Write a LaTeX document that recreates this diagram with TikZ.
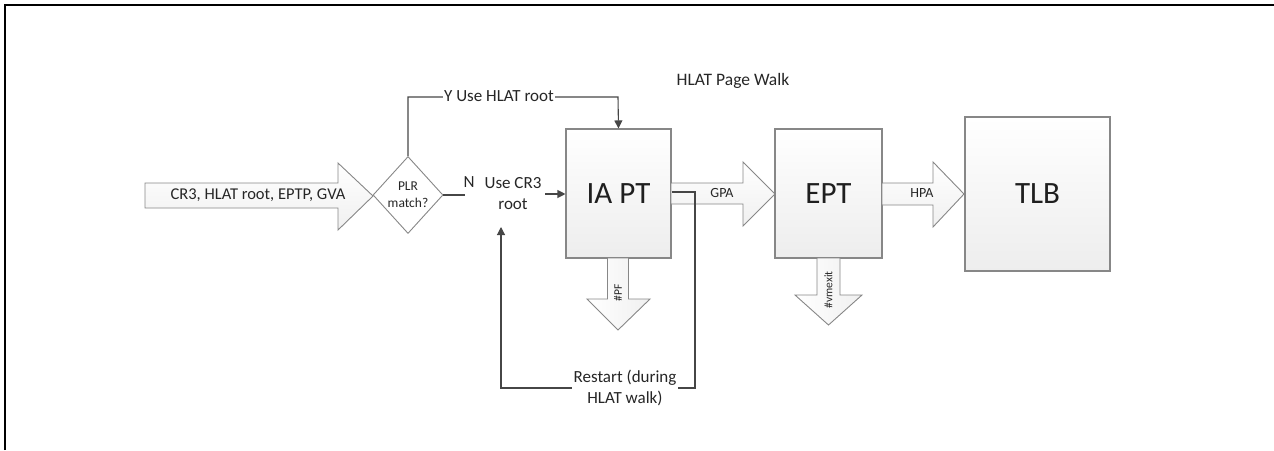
\documentclass[tikz,border=0pt]{standalone}
\usepackage{fontspec}
\setmainfont{Carlito}
\usetikzlibrary{shapes.geometric,arrows.meta,calc}
\definecolor{boxgray}{RGB}{135,135,135}
\definecolor{linegray}{RGB}{70,70,70}
\begin{document}
\begin{tikzpicture}[x=1pt,y=-1pt,
  box/.style={draw=boxgray, line width=1.1pt, top color=white, bottom color=gray!14, text=black!88, inner sep=0pt},
  fat/.style={draw=boxgray, line width=0.9pt, top color=white, bottom color=gray!12},
  vfat/.style={draw=boxgray, line width=0.9pt, left color=white, right color=gray!12},
  conn/.style={draw=linegray, line width=1.1pt, -{Triangle[length=8pt,width=8pt]}},
  wire/.style={draw=linegray, line width=1.1pt},
  lbl/.style={text=black!85, inner sep=1pt},
  big/.style={font=\fontsize{31}{33}\selectfont},
  mid/.style={font=\fontsize{17}{21}\selectfont},
  small/.style={font=\fontsize{14}{16}\selectfont},
  tiny/.style={font=\fontsize{11.5}{12}\selectfont}]
\useasboundingbox (0,0) rectangle (1274,450);
% frame
\draw[line width=2.2pt] (5,450) -- (5,5) -- (1274,5);

% boxes
\node[box, big, minimum width=105pt, minimum height=129pt] (iapt) at (618.5,193.5) {IA PT};
\node[box, big, minimum width=107pt, minimum height=129pt] (ept) at (828.5,193.5) {EPT};
\node[box, big, minimum width=145pt, minimum height=154pt] (tlb) at (1037.5,194) {TLB};

% input fat arrow
\draw[fat] (145,183) -- (338,183) -- (338,163) -- (373,196) -- (338,230) -- (338,208) -- (145,208) -- cycle;
\node[lbl, font=\fontsize{16.5}{18}\selectfont] (inlbl) at (258,195) {CR3, HLAT root, EPTP, GVA};

% decision
\node[draw=boxgray, line width=0.9pt, fill=white, diamond, minimum width=70pt, minimum height=77pt, inner sep=0pt, align=center, text=black!85, font=\fontsize{13.5}{17}\selectfont] (plr) at (408,195) {PLR\\match?};

% GPA fat arrow
\draw[fat] (671,183) -- (743,183) -- (743,162) -- (775,194) -- (743,226) -- (743,204) -- (671,204) -- cycle;
\node[lbl, small] (gpa) at (722,193) {GPA};
% HPA fat arrow
\draw[fat] (882,183) -- (933,183) -- (933,162) -- (964,194) -- (933,227) -- (933,205) -- (882,205) -- cycle;
\node[lbl, small] (hpa) at (922,193) {HPA};

% #PF down arrow
\draw[vfat] (607.5,258) -- (628.5,258) -- (628.5,299) -- (650,299) -- (618,330) -- (587,299) -- (607.5,299) -- cycle;
\node[lbl, tiny, rotate=90] (pf) at (618,293) {\#PF};
% #vmexit down arrow
\draw[vfat] (817,258) -- (840,258) -- (840,295) -- (862,295) -- (828.5,325) -- (795,295) -- (817,295) -- cycle;
\node[lbl, tiny, rotate=90] (vmexit) at (828.5,290) {\#vmexit};

% title
\node[lbl, font=\fontsize{17.5}{21}\selectfont] (title) at (733,81) {HLAT Page Walk};

% Y branch
\coordinate (ytop) at (408,97);
\coordinate (yright) at (618,97);
\draw[conn] (plr.north) -- (ytop) -- (yright) -- (iapt.north);
\node[lbl, mid, fill=white, inner sep=1pt] (ylbl) at (499,96) {Y Use HLAT root};

% N branch
\coordinate (nend) at (465,195);
\draw[wire] (plr.east) -- (nend);
\node[lbl, mid] (nlbl) at (469,182) {N};
\node[lbl, mid, align=center] (cr3) at (513,194) {Use CR3\\root};
\coordinate (cr3out) at (545,194);
\draw[conn] (cr3out) -- (iapt.west |- cr3out);

% restart loop
\coordinate (r1) at (695,192);
\coordinate (r2) at (695,388);
\coordinate (r3) at (501,388);
\coordinate (r4) at (501,227);
\draw[conn] (iapt.east |- r1) -- (r1) -- (r2) -- (r3) -- (r4);
\node[lbl, mid, fill=white, align=center, inner sep=2pt] (rlbl) at (625,388) {Restart (during\\HLAT walk)};
\end{tikzpicture}
\end{document}
